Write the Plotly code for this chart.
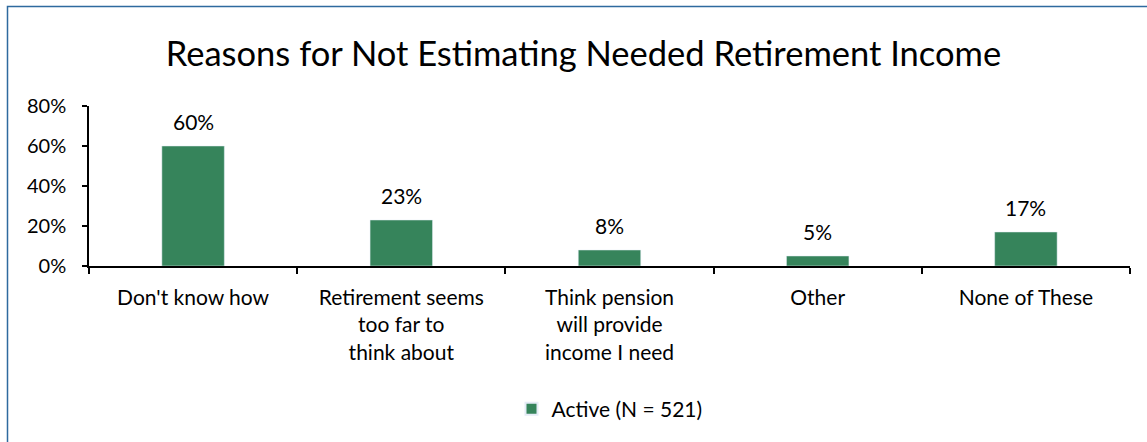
import plotly.graph_objects as go

categories = ["Don't know how", "Retirement seems<br>too far to<br>think about",
              "Think pension<br>will provide<br>income I need", "Other", "None of These"]
values = [0.60, 0.23, 0.08, 0.05, 0.17]
labels = ["60%", "23%", "8%", "5%", "17%"]
series_name = "Active (N = 521)"
title = "Reasons for Not Estimating Needed Retirement Income"

FONT = "Lato"
GREEN = "#36845B"

fig = go.Figure()
fig.add_trace(go.Bar(
    x=categories, y=values, name=series_name, marker_color=GREEN,
    width=0.3, showlegend=True,
))

for c, v, t in zip(categories, values, labels):
    fig.add_annotation(x=c, y=v, text=t, showarrow=False, yanchor="middle",
                       yshift=25, font=dict(size=21, color="#000", family=FONT))

fig.update_layout(
    width=1147, height=442,
    margin=dict(l=89, r=17, t=106, b=176),
    paper_bgcolor="white", plot_bgcolor="white",
    font=dict(family=FONT, color="#000", size=20),
    title=dict(text=title, x=0.5087, xanchor="center", y=0.878, yanchor="middle",
               font=dict(size=34.5, family=FONT, color="#000")),
    showlegend=True,
    legend=dict(orientation="h", x=0.5, xanchor="center", y=-0.894, yanchor="middle",
                font=dict(size=21), itemsizing="constant"),
    bargap=0.7,
)
fig.update_xaxes(type="category", showline=True, linecolor="#000", linewidth=1.5,
                 ticks="outside", tickson="boundaries", ticklen=6, tickcolor="#000",
                 tickwidth=1.5, showgrid=False, tickfont=dict(size=21),
                 ticklabelstandoff=12)
fig.update_yaxes(range=[0, 0.8], tickvals=[0, 0.2, 0.4, 0.6, 0.8],
                 ticktext=["0%", "20%", "40%", "60%", "80%"],
                 showline=True, linecolor="#000", linewidth=1.5, ticks="outside",
                 ticklen=5, tickcolor="#000", tickwidth=1.5, showgrid=False,
                 zeroline=False, tickfont=dict(size=20), ticklabelstandoff=12)

fig.add_shape(type="rect", xref="paper", yref="paper",
              x0=(7.5 - 89) / 1041, x1=(1170 - 89) / 1041,
              y0=-(470 - 266) / 160, y1=(266 - 6.5) / 160,
              line=dict(color="#2E6A9E", width=1.5), fillcolor="rgba(0,0,0,0)", layer="below")

fig.write_html("out.html")
